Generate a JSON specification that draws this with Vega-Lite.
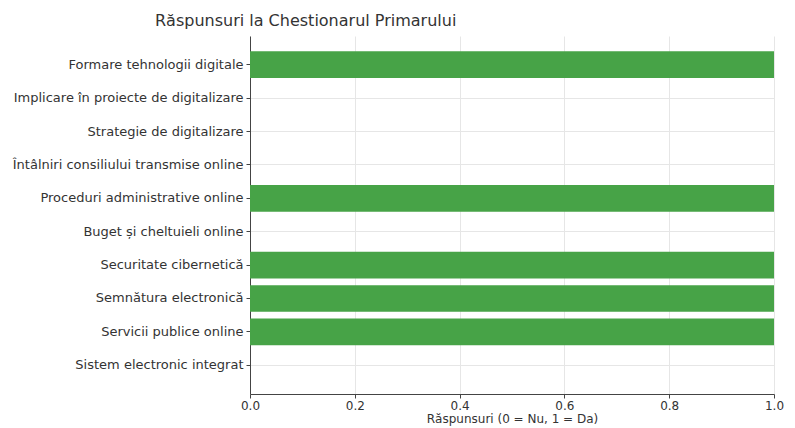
{
  "$schema": "https://vega.github.io/schema/vega-lite/v6.json",
  "autosize": {"type": "none"},
  "padding": {"left": 250, "top": 36, "right": 21, "bottom": 34},
  "width": 524,
  "height": 358,
  "background": "white",
  "title": {
    "text": "Răspunsuri la Chestionarul Primarului",
    "anchor": "start",
    "frame": "group",
    "dx": -95,
    "offset": 7,
    "font": "DejaVu Sans",
    "fontSize": 16,
    "fontWeight": "normal",
    "color": "#333333"
  },
  "config": {
    "view": {"stroke": null},
    "axis": {
      "labelFont": "DejaVu Sans",
      "titleFont": "DejaVu Sans",
      "labelColor": "#333333",
      "titleColor": "#333333",
      "domainColor": "#444444",
      "tickColor": "#444444",
      "gridColor": "#e6e6e6",
      "gridWidth": 1
    }
  },
  "data": {
    "values": [
      {"intrebare": "Formare tehnologii digitale", "raspuns": 1},
      {"intrebare": "Implicare în proiecte de digitalizare", "raspuns": 0},
      {"intrebare": "Strategie de digitalizare", "raspuns": 0},
      {"intrebare": "Întâlniri consiliului transmise online", "raspuns": 0},
      {"intrebare": "Proceduri administrative online", "raspuns": 1},
      {"intrebare": "Buget și cheltuieli online", "raspuns": 0},
      {"intrebare": "Securitate cibernetică", "raspuns": 1},
      {"intrebare": "Semnătura electronică", "raspuns": 1},
      {"intrebare": "Servicii publice online", "raspuns": 1},
      {"intrebare": "Sistem electronic integrat", "raspuns": 0}
    ]
  },
  "mark": {"type": "bar", "color": "#47a347"},
  "encoding": {
    "y": {
      "field": "intrebare",
      "type": "nominal",
      "sort": null,
      "scale": {"paddingInner": 0.2, "paddingOuter": 0.46},
      "axis": {
        "title": null,
        "labelFontSize": 13,
        "labelPadding": 3,
        "tickSize": 4,
        "grid": true,
        "bandPosition": 0.5,
        "labelLimit": 300
      }
    },
    "x": {
      "field": "raspuns",
      "type": "quantitative",
      "scale": {"domain": [0, 1], "nice": false},
      "axis": {
        "title": "Răspunsuri (0 = Nu, 1 = Da)",
        "values": [0, 0.2, 0.4, 0.6, 0.8, 1.0],
        "format": ".1f",
        "labelFontSize": 12,
        "labelFlush": false,
        "titleFontSize": 12,
        "titleFontWeight": "normal",
        "titlePadding": 2,
        "labelPadding": 2,
        "tickSize": 4,
        "grid": true
      }
    }
  }
}
